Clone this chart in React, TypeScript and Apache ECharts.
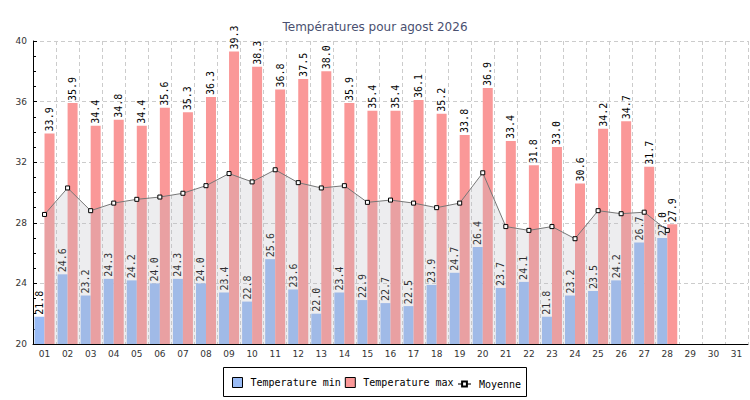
import React, { useEffect, useRef } from "react";
import * as echarts from "echarts";

const days = [
  "01", "02", "03", "04", "05", "06", "07", "08", "09", "10",
  "11", "12", "13", "14", "15", "16", "17", "18", "19", "20",
  "21", "22", "23", "24", "25", "26", "27", "28", "29", "30", "31",
];

const tempMin = [
  21.8, 24.6, 23.2, 24.3, 24.2, 24.0, 24.3, 24.0, 23.4, 22.8,
  25.6, 23.6, 22.0, 23.4, 22.9, 22.7, 22.5, 23.9, 24.7, 26.4,
  23.7, 24.1, 21.8, 23.2, 23.5, 24.2, 26.7, 27.0, null, null, null,
];

const tempMax = [
  33.9, 35.9, 34.4, 34.8, 34.4, 35.6, 35.3, 36.3, 39.3, 38.3,
  36.8, 37.5, 38.0, 35.9, 35.4, 35.4, 36.1, 35.2, 33.8, 36.9,
  33.4, 31.8, 33.0, 30.6, 34.2, 34.7, 31.7, 27.9, null, null, null,
];

// moyenne
const tempAvg = [
  28.55, 30.3, 28.8, 29.3, 29.55, 29.7, 29.95, 30.45, 31.25, 30.7,
  31.5, 30.65, 30.3, 30.45, 29.35, 29.5, 29.3, 29.0, 29.3, 31.3,
  27.75, 27.5, 27.75, 26.95, 28.8, 28.6, 28.7, 27.5, null, null, null,
];

const mono = "DejaVu Sans Mono";

const App: React.FC = () => {
  const chartRef = useRef<HTMLDivElement>(null);

  useEffect(() => {
    document.body.style.margin = "0";
    if (!chartRef.current) return;
    const chart = echarts.init(chartRef.current, null, { renderer: "svg" });

    const barLabel = {
      show: true,
      position: "top",
      rotate: 90,
      align: "left",
      verticalAlign: "middle",
      distance: 2,
      fontFamily: mono,
      fontSize: 10,
      color: "#000",
      formatter: (p: any) => Number(p.value).toFixed(1),
    };

    const legendText = {
      fontFamily: mono,
      fontSize: 10,
      color: "#000",
      padding: [0, 0, 0, 3],
    };

    chart.setOption({
      animation: false,
      title: {
        text: "Températures pour agost 2026",
        left: "center",
        top: 16,
        textStyle: {
          fontFamily: "DejaVu Sans",
          fontSize: 12,
          fontWeight: "normal",
          color: "#4a5070",
        },
      },
      legend: [
        {
          left: 232,
          top: 377,
          padding: 0,
          itemGap: 4,
          itemWidth: 10,
          itemHeight: 10,
          icon: "rect",
          data: ["Temperature min", "Temperature max"],
          itemStyle: { borderColor: "#000", borderWidth: 1 },
          textStyle: legendText,
        },
        {
          left: 457,
          top: 379,
          padding: 0,
          itemWidth: 13,
          itemHeight: 6,
          data: ["Moyenne"],
          textStyle: legendText,
        },
      ],
      graphic: [
        {
          type: "rect",
          shape: { x: 223.5, y: 367.5, width: 303, height: 29 },
          style: { fill: "none", stroke: "#000", lineWidth: 1 },
          silent: true,
        },
      ],
      grid: { left: 33, right: 2, top: 41, bottom: 56 },
      xAxis: {
        type: "category",
        data: days,
        axisLine: { lineStyle: { color: "#000", width: 1 } },
        axisTick: { inside: true, length: 4, lineStyle: { color: "#000" } },
        axisLabel: { fontFamily: "DejaVu Sans", fontSize: 9, color: "#333", margin: 5 },
        splitLine: {
          show: true,
          interval: 0,
          lineStyle: { color: "#ccc", type: [4, 3] },
        },
      },
      yAxis: {
        type: "value",
        min: 20,
        max: 40,
        interval: 4,
        axisLine: { show: true, lineStyle: { color: "#000", width: 1 } },
        axisTick: { show: true, inside: true, length: 4, lineStyle: { color: "#000" } },
        minorTick: { show: true, splitNumber: 4, length: 3, lineStyle: { color: "#000" } },
        axisLabel: { fontFamily: "DejaVu Sans", fontSize: 9, color: "#333", margin: 6 },
        splitLine: { lineStyle: { color: "#ccc", type: [4, 3] } },
      },
      series: [
        {
          name: "Temperature min",
          type: "bar",
          data: tempMin,
          barWidth: 10,
          barGap: "0%",
          itemStyle: { color: "#99bbf5" },
          label: barLabel,
        },
        {
          name: "Temperature max",
          type: "bar",
          data: tempMax,
          barWidth: 10,
          itemStyle: { color: "#fa9898" },
          label: barLabel,
        },
        {
          name: "Moyenne",
          type: "line",
          data: tempAvg,
          symbol: "rect",
          symbolSize: 4,
          showAllSymbol: true,
          lineStyle: { color: "#777", width: 1 },
          itemStyle: { color: "#fff", borderColor: "#000", borderWidth: 1 },
          areaStyle: { color: "rgba(184,184,190,0.36)", origin: "start" },
          z: 3,
        },
      ],
    });

    return () => {
      chart.dispose();
    };
  }, []);

  return <div ref={chartRef} style={{ width: "750px", height: "400px" }}></div>;
};

export default App;
